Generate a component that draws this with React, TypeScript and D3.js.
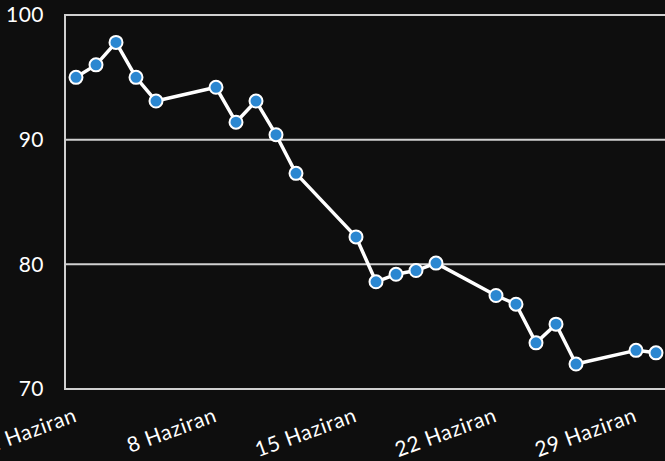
import React, { useEffect, useRef } from "react";
import * as d3 from "d3";

const days = [1, 2, 3, 4, 5, 8, 9, 10, 11, 12, 15, 16, 17, 18, 19, 22, 23, 24, 25, 26, 29, 30];
const values = [95.0, 96.0, 97.8, 95.0, 93.1, 94.2, 91.4, 93.1, 90.4, 87.3, 82.2, 78.6, 79.2, 79.5, 80.1, 77.5, 76.8, 73.7, 75.2, 72.0, 73.1, 72.9];
const yTicks = [70, 80, 90, 100];
const xTickDays = [1, 8, 15, 22, 29];
const xTickLabels = ["1 Haziran", "8 Haziran", "15 Haziran", "22 Haziran", "29 Haziran"];

const width = 665;
const height = 461;
const margin = { top: 15, right: 0, bottom: 72, left: 65 };
const font = "Lato, 'DejaVu Sans', sans-serif";

const App = () => {
  const ref = useRef(null);

  useEffect(() => {
    const svg = d3.select(ref.current);
    svg.selectAll("*").remove();

    const x = d3
      .scaleLinear()
      .domain([0.45, 30.45])
      .range([margin.left, width - margin.right]);
    const y = d3
      .scaleLinear()
      .domain([70, 100])
      .range([height - margin.bottom, margin.top]);

    svg
      .append("rect")
      .attr("width", width)
      .attr("height", height)
      .attr("fill", "#0e0e0e");

    // grid lines
    svg
      .append("g")
      .selectAll("line")
      .data(yTicks)
      .join("line")
      .attr("x1", margin.left)
      .attr("x2", width)
      .attr("y1", (d) => y(d))
      .attr("y2", (d) => y(d))
      .attr("stroke", "#d0d0d0")
      .attr("stroke-width", 2);

    // left axis line
    svg
      .append("line")
      .attr("x1", margin.left)
      .attr("x2", margin.left)
      .attr("y1", y(100) - 1)
      .attr("y2", y(70) + 1)
      .attr("stroke", "#d0d0d0")
      .attr("stroke-width", 2);

    // y labels
    svg
      .append("g")
      .selectAll("text")
      .data(yTicks)
      .join("text")
      .attr("x", 44)
      .attr("y", (d) => y(d))
      .attr("dy", "0.35em")
      .attr("text-anchor", "end")
      .attr("fill", "#ffffff")
      .style("font-family", font)
      .style("font-size", "21px")
      .style("letter-spacing", "0.5px")
      .text((d) => d);

    // x labels
    svg
      .append("g")
      .selectAll("text")
      .data(xTickDays)
      .join("text")
      .attr("transform", (d) => `translate(${x(d) + 2},${421}) rotate(-20)`)
      .attr("text-anchor", "end")
      .attr("fill", "#ffffff")
      .style("font-family", font)
      .style("font-size", "21px")
      .style("letter-spacing", "0.6px")
      .text((d, i) => xTickLabels[i]);

    const points = days.map((d, i) => [d, values[i]] as [number, number]);

    const line = d3
      .line<[number, number]>()
      .x((d) => x(d[0]))
      .y((d) => y(d[1]));

    svg
      .append("path")
      .datum(points)
      .attr("d", line)
      .attr("fill", "none")
      .attr("stroke", "#ffffff")
      .attr("stroke-width", 3.5)
      .attr("stroke-linejoin", "round");

    svg
      .append("g")
      .selectAll("circle")
      .data(points)
      .join("circle")
      .attr("cx", (d) => x(d[0]))
      .attr("cy", (d) => y(d[1]))
      .attr("r", 6.5)
      .attr("fill", "#2b87d1")
      .attr("stroke", "#ffffff")
      .attr("stroke-width", 2);
  }, []);

  return (
    <svg
      ref={ref}
      width={width}
      height={height}
      style={{ position: "absolute", left: 0, top: 0 }}
    />
  );
};

export default App;
